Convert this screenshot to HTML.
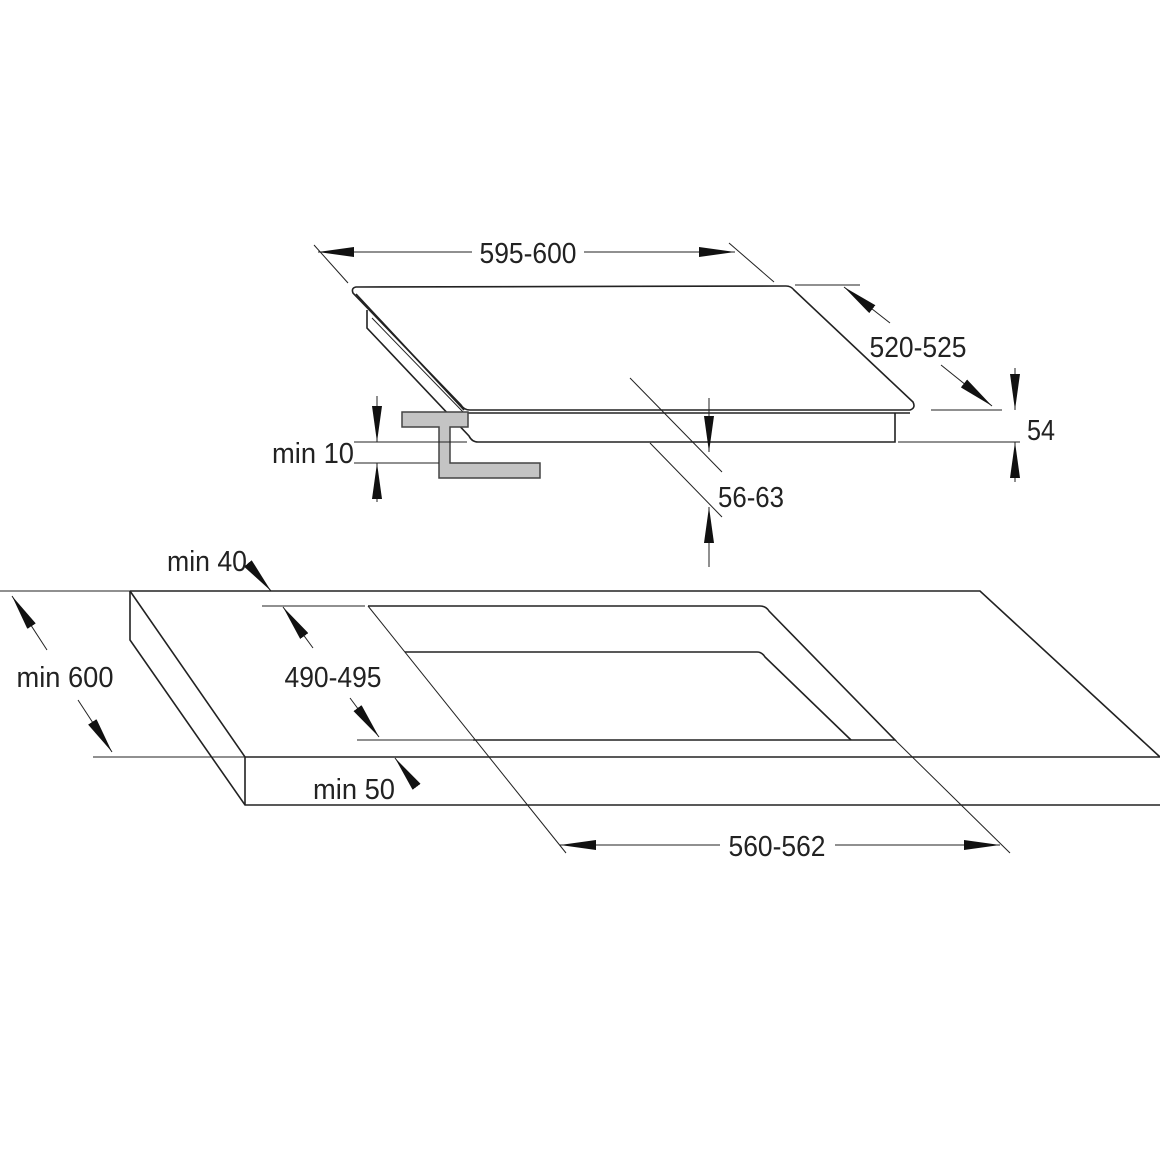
<!DOCTYPE html>
<html><head><meta charset="utf-8"><style>
html,body{margin:0;padding:0;background:#fff;}
svg{display:block}
text{font-family:"Liberation Sans Narrow","Liberation Sans",sans-serif;font-size:29px;fill:#222;}
</style></head><body>
<svg width="1160" height="1160" viewBox="0 0 1160 1160" xmlns="http://www.w3.org/2000/svg">
<defs>
<marker id="a" markerUnits="userSpaceOnUse" markerWidth="36" markerHeight="10" refX="36" refY="5" orient="auto-start-reverse" viewBox="0 0 36 10">
<path d="M0,0 L36,5 L0,10 z" fill="#111"/></marker>
</defs>
<g fill="none" stroke="#222" stroke-width="1.6">
<path d="M356,287 L786,286 Q791,286 794,290 L913,402 Q916,408 910,410 L470,410 Q464,410 461,405 L353,293 Q351,288 356,287 Z"/>
<path d="M356,294 L464,410"/>
<path d="M467,413 L910,413"/>
<path d="M367,310 L367,328 L469,436 Q472,442 478,442 L895,442 L895,413"/>
<path d="M372,318 L465,414" stroke-width="1"/>
</g>
<path d="M402,412 L468,412 L468,427 L450,427 L450,463 L540,463 L540,478 L439,478 L439,427 L402,427 Z" fill="#c4c4c4" stroke="#444" stroke-width="1.5"/>
<g fill="none" stroke="#222" stroke-width="1">
<line x1="314" y1="245" x2="348" y2="283"/>
<line x1="729" y1="243" x2="774" y2="282"/>
<line x1="318" y1="252" x2="472" y2="252" marker-start="url(#a)"/>
<line x1="584" y1="252" x2="735" y2="252" marker-end="url(#a)"/>
<line x1="795" y1="285" x2="860" y2="285"/>
<line x1="931" y1="410" x2="1002" y2="410"/>
<line x1="890" y1="323" x2="844" y2="287" marker-end="url(#a)"/>
<line x1="941" y1="365" x2="992" y2="406" marker-end="url(#a)"/>
<line x1="898" y1="442" x2="1020" y2="442"/>
<line x1="1015" y1="368" x2="1015" y2="410" marker-end="url(#a)"/>
<line x1="1015" y1="482" x2="1015" y2="442" marker-end="url(#a)"/>
<line x1="630" y1="378" x2="722" y2="472"/>
<line x1="650" y1="443" x2="722" y2="517"/>
<line x1="709" y1="398" x2="709" y2="452" marker-end="url(#a)"/>
<line x1="709" y1="567" x2="709" y2="507" marker-end="url(#a)"/>
<line x1="354" y1="442" x2="467" y2="442"/>
<line x1="354" y1="463" x2="439" y2="463"/>
<line x1="377" y1="396" x2="377" y2="442" marker-end="url(#a)"/>
<line x1="377" y1="502" x2="377" y2="463" marker-end="url(#a)"/>
</g>
<g fill="none" stroke="#222" stroke-width="1.6">
<path d="M130,591 L980,591 L1160,757"/>
<path d="M130,591 L130,640 L245,805 L1160,805"/>
<path d="M130,591 L245,757 L1160,757"/>
<line x1="245" y1="757" x2="245" y2="805"/>
<path d="M368,606 L760,606 Q766,606 769,611 L895,740 L473,740"/>
<path d="M405,652 L757,652 Q762,652 765,657 L851,740"/>
</g>
<g fill="none" stroke="#222" stroke-width="1">
<line x1="368" y1="606" x2="566" y2="853"/>
<line x1="895" y1="740" x2="1010" y2="853"/>
<line x1="262" y1="606" x2="365" y2="606"/>
<line x1="357" y1="740" x2="473" y2="740"/>
<line x1="0" y1="591" x2="130" y2="591"/>
<line x1="93" y1="757" x2="245" y2="757"/>
<line x1="560" y1="845" x2="720" y2="845" marker-start="url(#a)"/>
<line x1="835" y1="845" x2="1000" y2="845" marker-end="url(#a)"/>
<line x1="47" y1="650" x2="12" y2="596" marker-end="url(#a)"/>
<line x1="78" y1="700" x2="112" y2="752" marker-end="url(#a)"/>
<line x1="313" y1="648" x2="283" y2="607" marker-end="url(#a)"/>
<line x1="350" y1="698" x2="379" y2="737" marker-end="url(#a)"/>
<line x1="250" y1="566" x2="271" y2="591" marker-end="url(#a)"/>
<line x1="410" y1="778" x2="395" y2="758" marker-end="url(#a)"/>
</g>
<g>
<text x="528" y="263" text-anchor="middle" textLength="97" lengthAdjust="spacingAndGlyphs">595-600</text>
<text x="918" y="357" text-anchor="middle" textLength="97" lengthAdjust="spacingAndGlyphs">520-525</text>
<text x="1041" y="440" text-anchor="middle" textLength="28" lengthAdjust="spacingAndGlyphs">54</text>
<text x="751" y="507" text-anchor="middle" textLength="66" lengthAdjust="spacingAndGlyphs">56-63</text>
<text x="313" y="463" text-anchor="middle" textLength="82" lengthAdjust="spacingAndGlyphs">min 10</text>
<text x="207" y="571" text-anchor="middle" textLength="80" lengthAdjust="spacingAndGlyphs">min 40</text>
<text x="65" y="687" text-anchor="middle" textLength="97" lengthAdjust="spacingAndGlyphs">min 600</text>
<text x="333" y="687" text-anchor="middle" textLength="97" lengthAdjust="spacingAndGlyphs">490-495</text>
<text x="354" y="799" text-anchor="middle" textLength="82" lengthAdjust="spacingAndGlyphs">min 50</text>
<text x="777" y="856" text-anchor="middle" textLength="97" lengthAdjust="spacingAndGlyphs">560-562</text>
</g>
</svg>
</body></html>
